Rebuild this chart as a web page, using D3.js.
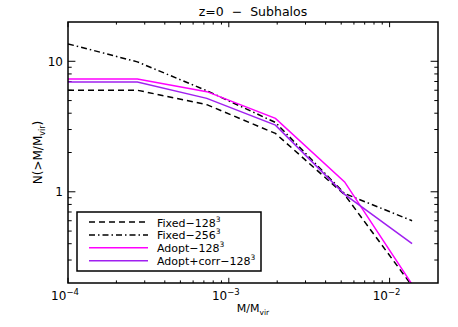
<!DOCTYPE html>
<html>
<head>
<meta charset="utf-8">
<script src="https://cdn.jsdelivr.net/npm/d3@7"></script>
<style>
  body { margin: 0; background: #fff; }
  svg { display: block; font-family: "DejaVu Sans", "Liberation Sans", sans-serif; }
  text { white-space: pre; }
</style>
</head>
<body>
<svg width="458" height="327"></svg>
<script>
// data
const mass = [1e-4, 2.7e-4, 7.3e-4, 1.95e-3, 5.25e-3, 1.38e-2];
const fixed128 = [6.0, 6.0, 4.65, 2.8, 0.95, 0.19];
const fixed256 = [13.6, 9.9, 5.95, 3.4, 0.97, 0.60];
const adopt128 = [7.3, 7.3, 5.85, 3.65, 1.19, 0.195];
const adoptCorr128 = [6.95, 6.95, 5.2, 3.24, 0.955, 0.40];

const seriesNames = ["Fixed\u2212128", "Fixed\u2212256", "Adopt\u2212128", "Adopt+corr\u2212128"];
const seriesColors = ["#000", "#000", "#ff00ff", "#a020f0"];
const seriesDash = ["6,4", "6,3,1.5,3", null, null];
const seriesValues = [fixed128, fixed256, adopt128, adoptCorr128];

const xMajor = [1e-4, 1e-3, 1e-2];
const xMajorExp = ["\u22124", "\u22123", "\u22122"];
const yMajor = [1, 10];
const yMajorLabels = ["1", "10"];

const margin = { top: 22, right: 20, bottom: 44, left: 68 };
const W = 458, H = 327;
const width = W - margin.left - margin.right;
const height = H - margin.top - margin.bottom;

const svg = d3.select("svg");
svg.append("rect").attr("width", W).attr("height", H).attr("fill", "#fff");

const x = d3.scaleLog().domain([1e-4, 2e-2]).range([0, width]);
const y = d3.scaleLog().domain([0.2, 20]).range([height, 0]);

const g = svg.append("g").attr("transform", `translate(${margin.left},${margin.top})`);

g.append("clipPath").attr("id", "clip")
	.append("rect").attr("width", width).attr("height", height);

// minor ticks
const xMinor = [];
for (let e = -4; e <= -2; e++) for (let k = 2; k <= 9; k++) {
	const v = k * Math.pow(10, e);
	if (v < 2e-2) xMinor.push(v);
}
const yMinor = [];
for (let e = -1; e <= 1; e++) for (let k = 2; k <= 9; k++) {
	const v = k * Math.pow(10, e);
	if (v > 0.2 && v < 20) yMinor.push(v);
}

const xt = 5.2, yt = 7.4;
const tickG = g.append("g").attr("stroke", "#000").attr("stroke-width", 1);
// bottom & top x ticks, pointing inward
[[height, -1], [0, 1]].forEach(([y0, dir]) => {
	tickG.selectAll(null).data(xMajor.concat(xMinor)).join("line")
		.attr("x1", d => x(d)).attr("x2", d => x(d))
		.attr("y1", y0)
		.attr("y2", d => y0 + dir * (xMajor.includes(d) ? xt : xt / 2));
});
// left & right y ticks
[[0, 1], [width, -1]].forEach(([x0, dir]) => {
	tickG.selectAll(null).data(yMajor.concat(yMinor)).join("line")
		.attr("y1", d => y(d)).attr("y2", d => y(d))
		.attr("x1", x0)
		.attr("x2", d => x0 + dir * (yMajor.includes(d) ? yt : yt / 2));
});

// lines
const line = d3.line().x(d => x(d[0])).y(d => y(d[1]));
const plotG = g.append("g").attr("clip-path", "url(#clip)");
seriesValues.forEach((vals, i) => {
	plotG.append("path")
		.datum(mass.map((m, j) => [m, vals[j]]))
		.attr("fill", "none")
		.attr("stroke", seriesColors[i])
		.attr("stroke-width", 1.5)
		.attr("stroke-dasharray", seriesDash[i])
		.attr("d", line);
});

// frame
g.append("rect").attr("width", width).attr("height", height)
	.attr("fill", "none").attr("stroke", "#000").attr("stroke-width", 1.5);

// x tick labels
const xl = g.selectAll(".xl").data(xMajor).join("text")
	.attr("class", "xl")
	.attr("x", d => x(d) - 3)
	.attr("y", height + 17)
	.attr("text-anchor", "middle")
	.attr("font-size", 12);
xl.append("tspan").text("10");
xl.append("tspan").attr("dy", -5).attr("font-size", 8.5).text((d, i) => xMajorExp[i]);

// y tick labels
g.selectAll(".yl").data(yMajor).join("text")
	.attr("class", "yl")
	.attr("x", -5)
	.attr("y", d => y(d) + 4.5)
	.attr("text-anchor", "end")
	.attr("font-size", 12)
	.text((d, i) => yMajorLabels[i]);

// title
svg.append("text")
	.attr("x", margin.left + width / 2).attr("y", 16)
	.attr("text-anchor", "middle").attr("font-size", 12.5)
	.text("z=0  \u2212  Subhalos");

// x label
const xlab = svg.append("text")
	.attr("x", margin.left + width / 2).attr("y", 312)
	.attr("text-anchor", "middle").attr("font-size", 11);
xlab.append("tspan").text("M/M");
xlab.append("tspan").attr("dy", 3).attr("font-size", 7.5).text("vir");

// y label
const ylab = svg.append("text")
	.attr("transform", `translate(42,${margin.top + height / 2}) rotate(-90)`)
	.attr("text-anchor", "middle").attr("font-size", 12);
ylab.append("tspan").text("N(>M/M");
ylab.append("tspan").attr("dy", 3).attr("font-size", 8).text("vir");
ylab.append("tspan").attr("dy", -3).text(")");

// legend
const leg = svg.append("g").attr("transform", "translate(77,212)");
leg.append("rect").attr("width", 184).attr("height", 59)
	.attr("fill", "#fff").attr("stroke", "#000").attr("stroke-width", 1.5);
const rows = leg.selectAll(".row").data(seriesNames).join("g")
	.attr("transform", (d, i) => `translate(0,${10 + i * 12.9})`);
rows.append("line")
	.attr("x1", 12).attr("x2", 71)
	.attr("stroke", (d, i) => seriesColors[i])
	.attr("stroke-width", 1.5)
	.attr("stroke-dasharray", (d, i) => seriesDash[i]);
const lt = rows.append("text").attr("x", 80).attr("y", 4.5).attr("font-size", 11);
lt.append("tspan").text(d => d);
lt.append("tspan").attr("dy", -5).attr("font-size", 7.5).text("3");
</script>
</body>
</html>
